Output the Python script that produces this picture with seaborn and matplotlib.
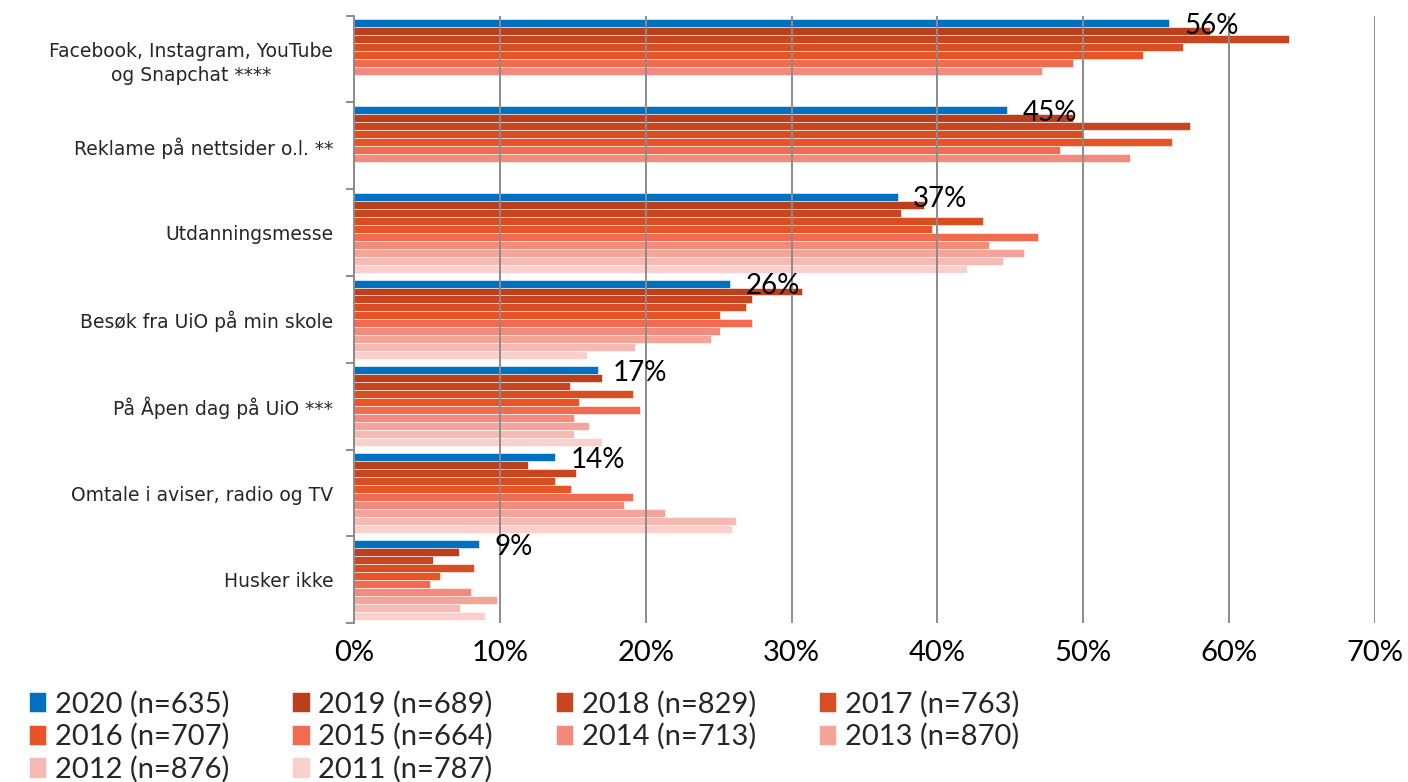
import numpy as np
import pandas as pd
import seaborn as sns
import matplotlib.pyplot as plt
from matplotlib.ticker import FuncFormatter

categories = ['Facebook, Instagram, YouTube\nog Snapchat ****',
              'Reklame på nettsider o.l. **',
              'Utdanningsmesse',
              'Besøk fra UiO på min skole',
              'På Åpen dag på UiO ***',
              'Omtale i aviser, radio og TV',
              'Husker ikke']

years = ['2020', '2019', '2018', '2017', '2016', '2015', '2014', '2013', '2012', '2011']
n_resp = [635, 689, 829, 763, 707, 664, 713, 870, 876, 787]

v2020 = [55.9, 44.8, 37.3, 25.8, 16.7, 13.8, 8.6]
v2019 = [58.7, 49.3, 39.1, 30.7, 17.0, 11.9, 7.2]
v2018 = [64.1, 57.3, 37.5, 27.3, 14.8, 15.2, 5.4]
v2017 = [56.8, 50.0, 43.1, 26.9, 19.1, 13.8, 8.2]
v2016 = [54.1, 56.1, 39.6, 25.1, 15.4, 14.9, 5.9]
v2015 = [49.3, 48.4, 46.9, 27.3, 19.6, 19.1, 5.2]
v2014 = [47.2, 53.2, 43.5, 25.1, 15.1, 18.5, 8.0]
v2013 = [np.nan, np.nan, 45.9, 24.5, 16.1, 21.3, 9.8]
v2012 = [np.nan, np.nan, 44.5, 19.3, 15.1, 26.2, 7.3]
v2011 = [np.nan, np.nan, 42.0, 16.0, 17.0, 25.9, 9.0]

colors = ['#0070C0', '#BA3F1D', '#C8461F', '#D84E22', '#E85426',
          '#F06B50', '#F28B7C', '#F5A49A', '#F7BAB3', '#F9D0CB']

series = [v2020, v2019, v2018, v2017, v2016, v2015, v2014, v2013, v2012, v2011]
labels = [f'{y} (n={n})' for y, n in zip(years, n_resp)]

rows = []
for lab, vals in zip(labels, series):
    for cat, v in zip(categories, vals):
        rows.append({'kategori': cat, 'år': lab, 'andel': v})
df = pd.DataFrame(rows)

sns.set_style('white')
plt.rcParams['font.family'] = ['Lato', 'DejaVu Sans']

fig = plt.figure(figsize=(14.08, 7.82), dpi=100)
ax = fig.add_axes([0.2514, 0.203, 0.7252, 0.777])

sns.barplot(data=df, x='andel', y='kategori', hue='år', order=categories,
            hue_order=labels, palette=colors, saturation=1, orient='h',
            width=0.92, errorbar=None, edgecolor='white', linewidth=0.4, ax=ax)

handles, hlabels = ax.get_legend_handles_labels()
ax.get_legend().remove()

# data labels for 2020 only
for bar, v in zip(ax.containers[0], v2020):
    ax.annotate(f'{v:.0f}%', xy=(bar.get_width(), bar.get_y() + bar.get_height()),
                xytext=(11, 1), textcoords='offset points', va='center',
                ha='left', fontsize=20, color='black')

ax.set_xlim(0, 70)
ax.set_xticks(range(0, 71, 10))
ax.xaxis.set_major_formatter(FuncFormatter(lambda x, p: f'{x:.0f}%'))
ax.tick_params(axis='x', length=0, pad=12, labelsize=21, labelcolor='black')
ax.xaxis.grid(True, color='#8c8c8c', lw=1.4)
ax.set_axisbelow(False)
for ln in ax.get_xgridlines():
    ln.set_zorder(0.5)

ax.set_ylim(6.5, -0.5)
ax.set_yticks(np.arange(-0.5, 7, 1), minor=True)
ax.tick_params(axis='y', which='major', length=0, pad=15, labelsize=13.5,
               labelcolor='#262626')
ax.tick_params(axis='y', which='minor', length=6, width=1.4, color='#8c8c8c',
               left=True)
for t in ax.get_yticklabels():
    t.set_multialignment('center')
    t.set_linespacing(1.35)
    t.set_family(['DejaVu Sans'])

ax.set_xlabel('')
ax.set_ylabel('')
for s in ['top', 'right', 'bottom']:
    ax.spines[s].set_visible(False)
ax.spines['left'].set_color('#8c8c8c')
ax.spines['left'].set_linewidth(1.4)

order = [0, 4, 8, 1, 5, 9, 2, 6, 3, 7]
fig.legend([handles[i] for i in order], [hlabels[i] for i in order],
           loc='upper left', bbox_to_anchor=(0.012, 0.132), ncol=4,
           frameon=False, fontsize=21, handlelength=0.6, handleheight=0.7,
           handletextpad=0.3, columnspacing=2.15, labelspacing=0.2,
           borderaxespad=0)

fig.savefig('out.png', dpi=100)
